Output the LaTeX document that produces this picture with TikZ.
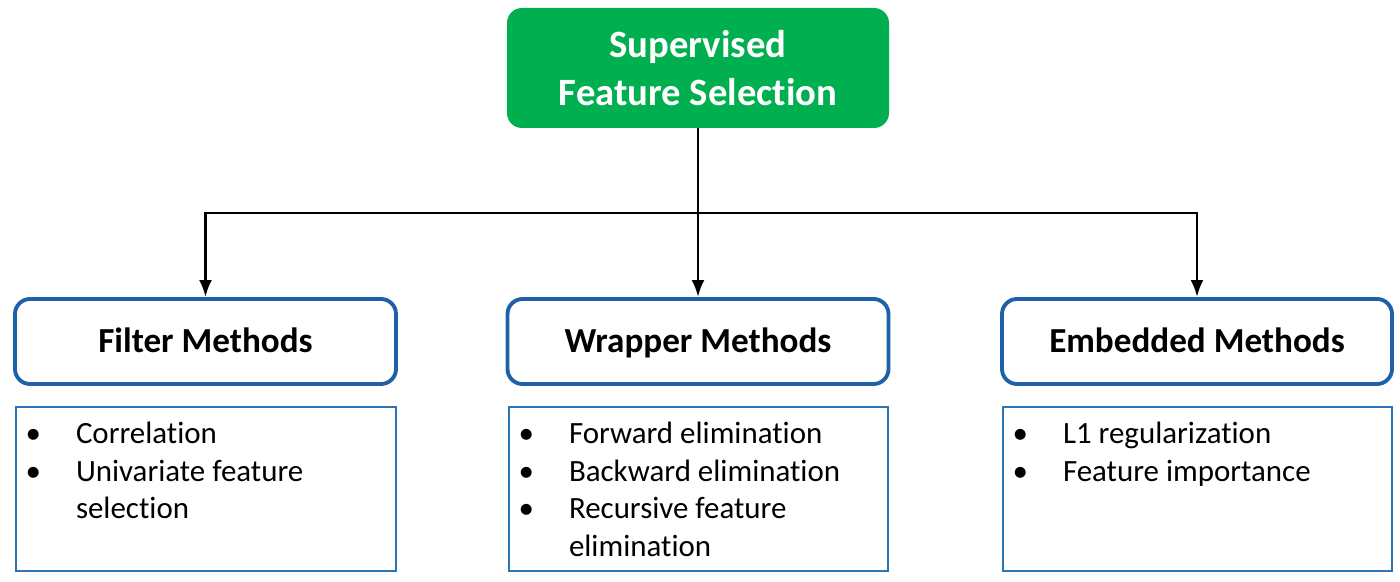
\documentclass[tikz,border=0pt]{standalone}
\usepackage{fontspec}
\setmainfont{Carlito}[Ligatures=NoCommon]
\usepackage{tikz}
\usetikzlibrary{arrows.meta}
\definecolor{titlegreen}{RGB}{0,176,80}
\definecolor{headblue}{RGB}{31,97,168}
\definecolor{listblue}{RGB}{46,117,182}
\def\branchy{-4.26}
\setlength{\leftmargini}{1.2cm}
\setlength{\labelsep}{0.7cm}
\newcommand{\methodlist}[2]{%
  \begin{minipage}[c][3.28cm][t]{#1}
    \raggedright\hyphenpenalty=10000
    \vspace*{0.3cm}
    \begin{itemize}\setlength{\itemsep}{0pt}\setlength{\parsep}{0pt}\setlength{\parskip}{0pt}
    #2
    \end{itemize}
  \end{minipage}}

\begin{document}
\begin{tikzpicture}[>={Latex[length=0.34cm,width=0.26cm]}]
    \tikzstyle{title}=[rectangle,rounded corners=0.3cm,fill=titlegreen,text=white,
        minimum width=7.64cm,minimum height=2.4cm,align=center,
        font=\fontsize{22}{27.5}\selectfont\bfseries]
    \tikzstyle{method}=[rectangle,rounded corners=0.3cm,draw=headblue,line width=2.2pt,
        minimum width=7.62cm,minimum height=1.7cm,text height=17pt,text depth=4pt,
        font=\fontsize{20}{24}\selectfont\bfseries]
    \tikzstyle{listbox}=[rectangle,draw=listblue,line width=1pt,inner sep=0pt,
        font=\fontsize{17.6}{21.5}\selectfont]
    \tikzstyle{link}=[draw=black,line width=1.6pt]

    \useasboundingbox (0,0) rectangle (28,-11.64);

    % Draw the root node
    \node[title] (SFS) at (13.96,-1.36) {Supervised\\Feature Selection};

    % Draw the three method families
    \node[method] (F) at (4.11,-6.83) {Filter Methods};
    \node[method] (W) at (13.96,-6.83) {Wrapper Methods};
    \node[method, minimum width=7.8cm] (E) at (23.94,-6.83) {Embedded Methods};

    % Draw the lists of examples under each family
    \node[listbox, anchor=north] (F-list) at (4.12,-8.12)
        {\methodlist{7.6cm}{\item Correlation \item Univariate feature selection}};
    \node[listbox, anchor=north] (W-list) at (13.97,-8.12)
        {\methodlist{7.58cm}{\item Forward elimination \item Backward elimination
         \item Recursive feature elimination}};
    \node[listbox, anchor=north] (E-list) at (23.95,-8.12)
        {\methodlist{7.78cm}{\item L1 regularization \item Feature importance}};

    % Connect the root with every family
    \coordinate (split) at (SFS.south |- 0,\branchy);
    \path[link] (SFS.south) -- (split);
    \foreach \dest in {F,W,E}
        \path[link,->] (split) -| (\dest.north);
\end{tikzpicture}
\end{document}
